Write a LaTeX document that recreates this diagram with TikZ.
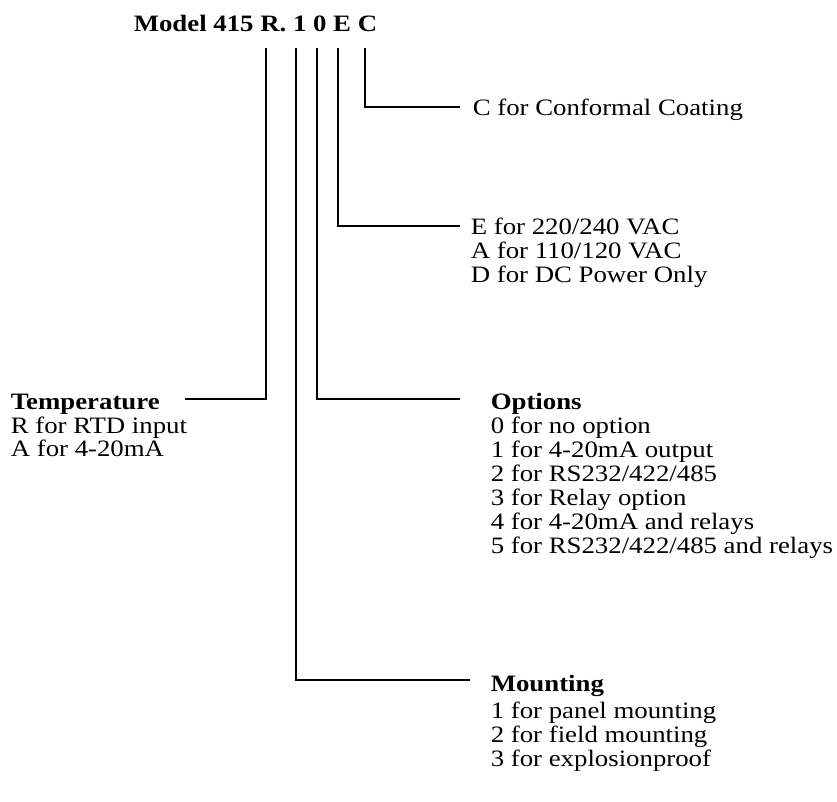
\documentclass[tikz,border=0pt]{standalone}
\usepackage{fontspec}
\setmainfont{Liberation Serif}
\newcommand{\widetxt}[1]{\scalebox{1.14}[1]{#1}}
\begin{document}
\begin{tikzpicture}[x=1pt,y=-1pt,line width=1.6pt,
  txt/.style={anchor=base west,inner sep=0pt,font=\fontsize{23.5}{24}\selectfont},
  head/.style={txt,font=\fontsize{23.5}{24}\selectfont\bfseries}]
\useasboundingbox (0,0) rectangle (837,801);
%
\node[head] (model) at (133,31) {\widetxt{Model 415 R. 1 0 E C}};
%
\coordinate (tR) at (266,48);
\coordinate (t1) at (296,48);
\coordinate (t0) at (317,48);
\coordinate (tE) at (338,48);
\coordinate (tC) at (365,48);
%
\coordinate (eC) at (460,107);
\coordinate (eE) at (460,226);
\coordinate (eR) at (185,399);
\coordinate (e0) at (460,399);
\coordinate (e1) at (470,680);
%
\node[txt] (coat) at (472,115) {\widetxt{C for Conformal Coating}};
\foreach \t [count=\i] in {E for 220/240 VAC, A for 110/120 VAC, D for DC Power Only}
  \node[txt] (pwr\i) at (470,210+24*\i) {\widetxt{\t}};
%
\node[head] (temp) at (10,409) {\widetxt{Temperature}};
\foreach \t [count=\i] in {R for RTD input, A for 4-20mA}
  \node[txt] (temp\i) at (10,410+23*\i) {\widetxt{\t}};
%
\node[head] (opt) at (490,409) {\widetxt{Options}};
\foreach \t [count=\i] in {0 for no option, 1 for 4-20mA output, 2 for RS232/422/485,
    3 for Relay option, 4 for 4-20mA and relays, 5 for RS232/422/485 and relays}
  \node[txt] (opt\i) at (490,409+24*\i) {\widetxt{\t}};
%
\node[head] (mnt) at (490,691) {\widetxt{Mounting}};
\foreach \t [count=\i] in {1 for panel mounting, 2 for field mounting, 3 for explosionproof}
  \node[txt] (mnt\i) at (490,694+24*\i) {\widetxt{\t}};
%
\draw (tC) |- (eC);
\draw (tE) |- (eE);
\draw (tR) |- (eR);
\draw (t0) |- (e0);
\draw (t1) |- (e1);
\end{tikzpicture}
\end{document}
